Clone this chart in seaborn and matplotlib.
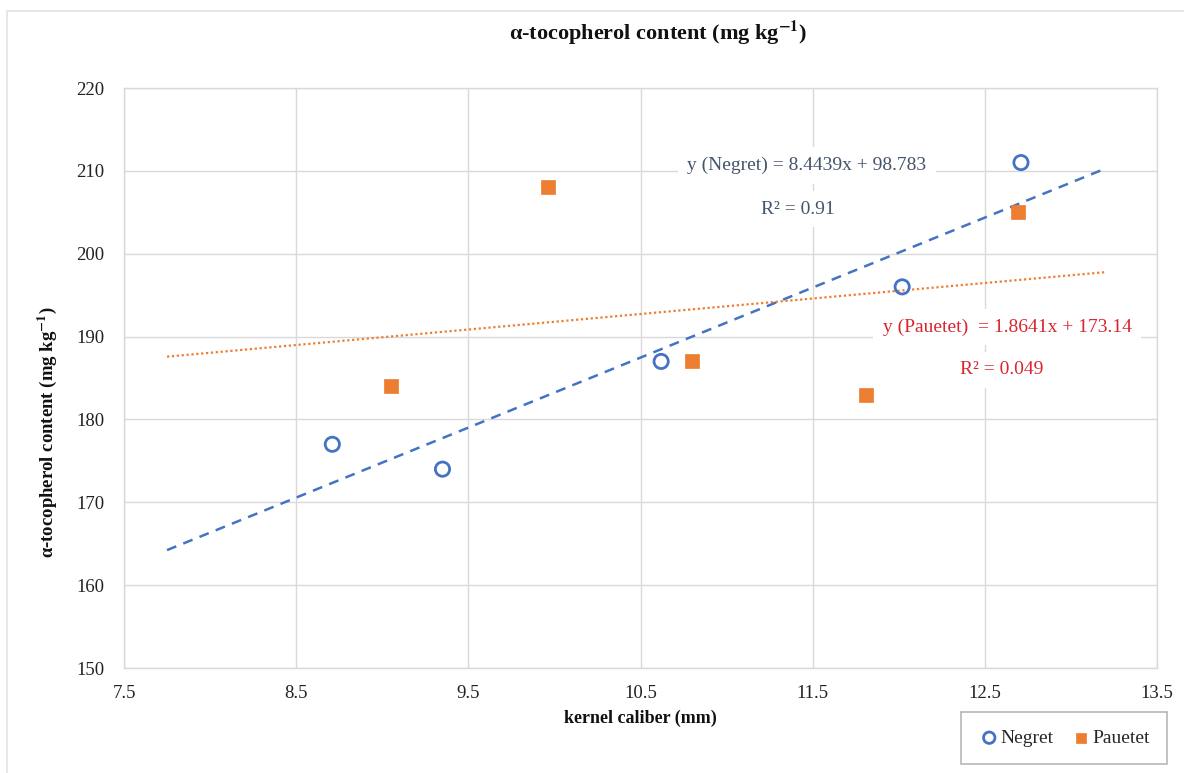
import numpy as np
import pandas as pd
import matplotlib
matplotlib.use("Agg")
import matplotlib.pyplot as plt
from matplotlib.patches import Rectangle
import seaborn as sns

# ---- data ----
negret_x = [8.71, 9.35, 10.62, 12.02, 12.71]
negret_y = [177, 174, 187, 196, 211]
pauetet_x = [9.05, 9.96, 10.80, 11.81, 12.69]
pauetet_y = [184, 208, 187, 183, 205]
trend_range = [7.75, 13.2]
negret_eq = "y (Negret) = 8.4439x + 98.783"
negret_r2 = "R² = 0.91"
pauetet_eq = "y (Pauetet)  = 1.8641x + 173.14"
pauetet_r2 = "R² = 0.049"
x_ticks = [7.5, 8.5, 9.5, 10.5, 11.5, 12.5, 13.5]
y_ticks = [150, 160, 170, 180, 190, 200, 210, 220]

BLUE = "#4472C4"
ORANGE = "#ED7D31"
GRID = "#D9D9D9"

sns.set_theme(style="white")
plt.rcParams["font.family"] = ["Liberation Serif", "DejaVu Serif"]
plt.rcParams["mathtext.fontset"] = "stix"

W, H = 1184, 773
fig = plt.figure(figsize=(W / 100, H / 100), dpi=100)
ax = fig.add_axes([124 / W, 1 - 668 / H, (1157 - 124) / W, (668 - 88) / H])

# outer border
fig.patches.append(Rectangle((7 / W, -0.01), 1.02, 1 - 11 / H + 0.01,
                             transform=fig.transFigure, fill=False,
                             edgecolor="#E3E3E3", linewidth=1.2, zorder=0))

# trend lines from least-squares fits
tx = np.array(trend_range)
cn = np.polyfit(negret_x, negret_y, 1)
cp = np.polyfit(pauetet_x, pauetet_y, 1)
sns.lineplot(x=tx, y=np.polyval(cn, tx), ax=ax, color=BLUE, linestyle=(0, (4, 3)),
             linewidth=1.8, zorder=3)
sns.lineplot(x=tx, y=np.polyval(cp, tx), ax=ax, color=ORANGE, linestyle=(0, (1, 1.2)),
             linewidth=1.6, zorder=3)

# scatter points
sns.scatterplot(x=negret_x, y=negret_y, ax=ax, marker="o", s=105,
                fc="none", ec=BLUE, linewidth=2.0, zorder=5, label="Negret")
sns.scatterplot(x=pauetet_x, y=pauetet_y, ax=ax, marker="s", s=95,
                color=ORANGE, ec=ORANGE, linewidth=0.5, zorder=5, label="Pauetet")

ax.set_xlim(7.5, 13.5)
ax.set_ylim(150, 220)
ax.set_xticks(x_ticks)
ax.set_xticklabels([f"{v:g}" for v in x_ticks])
ax.set_yticks(y_ticks)
ax.grid(True, color=GRID, linewidth=1.0)
ax.set_axisbelow(True)
for s in ax.spines.values():
    s.set_color(GRID)
    s.set_linewidth(1.0)
ax.tick_params(axis="both", length=0, labelsize=13.5, colors="#222222")
ax.tick_params(axis="x", pad=12)
ax.tick_params(axis="y", pad=14)
ax.set_xlabel("")
ax.set_ylabel("")

# titles and labels
fig.text(658 / W, 1 - 33 / H, r"α-tocopherol content (mg kg$^{\mathbf{-1}}$)",
         ha="center", va="center", fontsize=16, fontweight="bold", color="#111111")
fig.text(640 / W, 1 - 718 / H, "kernel caliber (mm)", ha="center", va="center",
         fontsize=13, fontweight="bold", color="#111111")
fig.text(47 / W, 1 - 432 / H, r"α-tocopherol content (mg kg$^{\mathbf{-1}}$)",
         ha="center", va="center", rotation=90, fontsize=13.5, fontweight="bold",
         color="#111111")

# equation annotations
box = dict(boxstyle="square,pad=0.5", fc="white", ec="none")
ax.text(0.661, 0.866, negret_eq, transform=ax.transAxes, ha="center", va="center",
        fontsize=14, color="#44546A", bbox=box, zorder=4)
ax.text(0.652, 0.791, negret_r2, transform=ax.transAxes, ha="center", va="center",
        fontsize=14, color="#44546A", bbox=box, zorder=4)
ax.text(0.855, 0.588, pauetet_eq, transform=ax.transAxes, ha="center", va="center",
        fontsize=14, color="#D9262E", bbox=box, zorder=4)
ax.text(0.850, 0.514, pauetet_r2, transform=ax.transAxes, ha="center", va="center",
        fontsize=14, color="#D9262E", bbox=box, zorder=4)

# legend
leg = ax.legend(loc="center", bbox_to_anchor=(1064 / W, 1 - 738 / H),
                bbox_transform=fig.transFigure, ncol=2, frameon=True, fancybox=False,
                fontsize=14, handletextpad=0.0, columnspacing=0.9,
                borderpad=0.9, handlelength=1.1, borderaxespad=0, markerscale=0.8)
leg.get_frame().set_edgecolor("#A6A6A6")
leg.get_frame().set_linewidth(1.2)

fig.savefig("out.png", dpi=100, facecolor="white")
